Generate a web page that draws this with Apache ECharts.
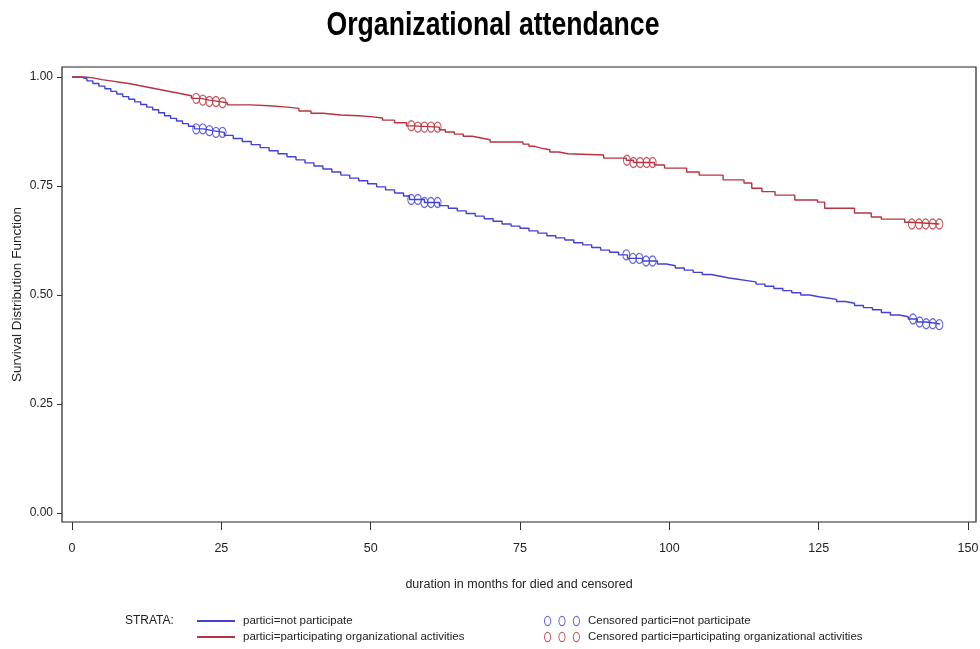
<!DOCTYPE html>
<html>
<head>
<meta charset="utf-8">
<script src="https://cdn.jsdelivr.net/npm/echarts@6/dist/echarts.min.js"></script>
<style>
  html, body { margin: 0; padding: 0; background: #fff; }
  #chart { width: 980px; height: 649px; }
</style>
</head>
<body>
<div id="chart"></div>
<script>
// Kaplan-Meier survival estimates by organizational participation
const xTicks = [0, 25, 50, 75, 100, 125, 150];
const yTicks = [0, 0.25, 0.5, 0.75, 1];

// stratum: not participating (event times in months, survival after each event)
const notPartTime = [0, 1.5, 2.5, 3.5, 4.5, 5.5, 6.5, 7.5, 8.5, 9.5, 10.5, 11.5, 12.5, 13.5, 14.5, 15.5, 16.5, 17.5, 18.5, 19.5,
  20.5, 22, 23.5, 25.5, 27, 28.5, 30, 31.5, 33, 34.5, 36, 37.5, 39, 40.5, 42, 43.5, 45, 46.5, 48, 49.5,
  51, 52.5, 54, 55.5, 56.5, 59, 61.5, 63, 64.5, 66, 67.5, 69, 70.5, 72, 73.5, 75, 76.5, 78, 79.5, 81,
  82.5, 84, 85.5, 87, 88.5, 90, 91.5, 93, 95.5, 98, 99.5, 101, 102.5, 104, 105.5, 107, 108.5, 110, 111.5, 113,
  114.5, 116, 117.5, 119, 120.5, 122, 123.5, 125, 126.5, 128, 129.5, 131, 132.5, 134, 135.5, 137, 138.5, 140, 141.5, 143, 145.2];
const notPartSurv = [1.000, 0.996, 0.991, 0.985, 0.979, 0.973, 0.967, 0.961, 0.955, 0.949, 0.943, 0.937, 0.931, 0.925, 0.918, 0.911, 0.905, 0.899, 0.893, 0.887,
  0.881, 0.877, 0.873, 0.866, 0.859, 0.852, 0.845, 0.838, 0.831, 0.824, 0.817, 0.810, 0.803, 0.796, 0.789, 0.782, 0.775, 0.768, 0.762, 0.755,
  0.748, 0.741, 0.734, 0.727, 0.719, 0.712, 0.705, 0.699, 0.693, 0.687, 0.681, 0.675, 0.669, 0.663, 0.658, 0.653, 0.647, 0.642, 0.636, 0.631,
  0.626, 0.620, 0.615, 0.609, 0.603, 0.598, 0.592, 0.584, 0.578, 0.571, 0.567, 0.562, 0.557, 0.552, 0.547, 0.543, 0.539, 0.536, 0.533, 0.530,
  0.525, 0.520, 0.515, 0.510, 0.505, 0.500, 0.496, 0.493, 0.490, 0.485, 0.481, 0.476, 0.471, 0.466, 0.460, 0.454, 0.450, 0.445, 0.438, 0.434, 0.432];
const notPartCensored = [20.8, 21.9, 23, 24.1, 25.2, 56.8, 57.9, 59, 60.1, 61.2, 92.8, 93.9, 95, 96.1, 97.2, 140.8, 141.9, 143, 144.1, 145.2];

// stratum: participating in organizational activities
const partTime = [0, 2, 3.5, 5, 6.5, 8, 9.5, 11, 12.5, 14, 15.5, 17, 18.5, 20, 21.5, 23, 24.5, 26, 30, 33,
  36, 38, 40, 42, 45, 48, 50, 52, 54, 56, 57, 61.5, 62.5, 64, 65.5, 67, 68.5, 70, 75.5, 76.5,
  77.5, 78.5, 80, 81.5, 83, 89, 92.8, 94, 97.5, 99.2, 102.9, 105, 109, 112.5, 113.8, 115.5, 117.7, 121, 124.8, 126,
  131, 133.8, 135.5, 139.4, 140.5, 145.2];
const partSurv = [1.000, 0.998, 0.994, 0.991, 0.988, 0.985, 0.981, 0.977, 0.973, 0.969, 0.965, 0.961, 0.957, 0.951, 0.947, 0.944, 0.941, 0.936, 0.934, 0.931,
  0.928, 0.922, 0.917, 0.913, 0.911, 0.909, 0.906, 0.901, 0.895, 0.888, 0.885, 0.879, 0.874, 0.869, 0.864, 0.860, 0.856, 0.851, 0.846, 0.841,
  0.837, 0.833, 0.828, 0.824, 0.821, 0.814, 0.809, 0.804, 0.798, 0.791, 0.782, 0.775, 0.764, 0.757, 0.745, 0.737, 0.729, 0.718, 0.713, 0.699,
  0.688, 0.679, 0.674, 0.667, 0.663, 0.663];
const partCensored = [20.8, 21.9, 23, 24.1, 25.2, 56.8, 57.9, 59, 60.1, 61.2, 92.9, 94, 95.1, 96.2, 97.2, 140.6, 141.8, 142.9, 144.1, 145.2];

const BLUE = '#4141d6';
const RED = '#b8333f';
const SANS = "'Liberation Sans', Arial, sans-serif";
const TITLE_TEXT = 'Organizational attendance';
const TITLE_FONT = 'bold 33px ' + SANS;
const TITLE_WIDTH = 333;   // condensed headline width in pixels

// survival estimate in effect at time t (right-continuous step function)
function survivalAt(times, surv, t) {
  let v = surv[0];
  for (let i = 0; i < times.length; i++) {
    if (times[i] <= t + 1e-9) v = surv[i]; else break;
  }
  return v;
}

const notPartLine = notPartTime.map((t, i) => [t, notPartSurv[i]]);
const partLine = partTime.map((t, i) => [t, partSurv[i]]);
const notPartMarks = notPartCensored.map(t => [t, survivalAt(notPartTime, notPartSurv, t)]);
const partMarks = partCensored.map(t => [t, survivalAt(partTime, partSurv, t)]);

// three open rings, used as the legend icon for censored observations
const ringsIcon = 'path://' +
  'M0,5A3.5,5 0 1 1 7,5A3.5,5 0 1 1 0,5Z M1,5A2.5,4 0 1 0 6,5A2.5,4 0 1 0 1,5Z ' +
  'M14,5A3.5,5 0 1 1 21,5A3.5,5 0 1 1 14,5Z M15,5A2.5,4 0 1 0 20,5A2.5,4 0 1 0 15,5Z ' +
  'M28,5A3.5,5 0 1 1 35,5A3.5,5 0 1 1 28,5Z M29,5A2.5,4 0 1 0 34,5A2.5,4 0 1 0 29,5Z';

// plot frame spans slightly past the tick range on every side
const PX_PER_MONTH = 896 / 150;
const PX_PER_UNIT = 436;
const xMin = -10 / PX_PER_MONTH, xMax = 150 + 8 / PX_PER_MONTH;
const yMin = -9 / PX_PER_UNIT, yMax = 1 + 10 / PX_PER_UNIT;

// horizontal squeeze for the headline so it reads as a condensed face
const measureCtx = document.createElement('canvas').getContext('2d');
measureCtx.font = TITLE_FONT;
const titleScale = TITLE_WIDTH / measureCtx.measureText(TITLE_TEXT).width;

const labelStyle = { fontFamily: SANS, fontSize: 12.5, color: '#222' };

const chart = echarts.init(document.getElementById('chart'), null, { renderer: 'canvas' });

chart.setOption({
  animation: false,
  backgroundColor: '#ffffff',
  grid: {
    left: 62, top: 67, width: 914, height: 455, show: true,
    borderColor: '#222', borderWidth: 1.2, backgroundColor: 'transparent',
    containLabel: false, outerBoundsMode: 'none'
  },
  xAxis: {
    type: 'value', min: xMin, max: xMax,
    position: 'bottom',
    axisLine: { show: false, onZero: false },
    axisTick: { show: true, length: 8, customValues: xTicks, lineStyle: { color: '#333', width: 1 } },
    axisLabel: Object.assign({ margin: 20, customValues: xTicks, formatter: v => String(Math.round(v)) }, labelStyle),
    splitLine: { show: false },
    name: 'duration in months for died and censored',
    nameLocation: 'middle', nameGap: 56, nameMoveOverlap: false,
    nameTextStyle: { fontFamily: SANS, fontSize: 12.5, color: '#222' }
  },
  yAxis: {
    type: 'value', min: yMin, max: yMax,
    position: 'left',
    axisLine: { show: false, onZero: false },
    axisTick: { show: true, length: 5, customValues: yTicks, lineStyle: { color: '#333', width: 1 } },
    axisLabel: Object.assign({ margin: 9, customValues: yTicks, formatter: v => v.toFixed(2) }, labelStyle, { fontSize: 12 }),
    splitLine: { show: false },
    name: 'Survival Distribution Function',
    nameLocation: 'middle', nameGap: 38, nameRotate: 90, nameMoveOverlap: false,
    nameTextStyle: { fontFamily: SANS, fontSize: 13.5, color: '#222' }
  },
  legend: [
    {
      left: 197, top: 615, orient: 'vertical', itemGap: 4, padding: 0,
      itemWidth: 38, itemHeight: 2, icon: 'rect',
      textStyle: { fontFamily: SANS, fontSize: 11.5, color: '#222', padding: [0, 0, 0, 3] },
      data: [
        { name: 'partici=not participate' },
        { name: 'partici=participating organizational activities' }
      ]
    },
    {
      left: 544, top: 615, orient: 'vertical', itemGap: 4, padding: 0,
      itemWidth: 36, itemHeight: 11,
      textStyle: { fontFamily: SANS, fontSize: 11.5, color: '#222', padding: [0, 0, 0, 3] },
      data: [
        { name: 'Censored partici=not participate', icon: ringsIcon, itemStyle: { color: BLUE, borderWidth: 0 } },
        { name: 'Censored partici=participating organizational activities', icon: ringsIcon, itemStyle: { color: RED, borderWidth: 0 } }
      ]
    }
  ],
  graphic: [
    {
      type: 'text', x: 493, y: 26, scaleX: titleScale, scaleY: 1,
      style: { text: TITLE_TEXT, font: TITLE_FONT, fill: '#000', align: 'center', verticalAlign: 'middle' }
    },
    {
      type: 'text', left: 125, top: 615,
      style: { text: 'STRATA:', font: '12px ' + SANS, fill: '#222' }
    }
  ],
  series: [
    {
      name: 'partici=not participate', type: 'line', step: 'end',
      data: notPartLine,
      showSymbol: false, symbol: 'none', color: BLUE,
      lineStyle: { color: BLUE, width: 1.4 }, z: 3
    },
    {
      name: 'partici=participating organizational activities', type: 'line', step: 'end',
      data: partLine,
      showSymbol: false, symbol: 'none', color: RED,
      lineStyle: { color: RED, width: 1.4 }, z: 3
    },
    {
      name: 'Censored partici=not participate', type: 'scatter',
      data: notPartMarks,
      symbol: 'circle', symbolSize: [7, 10], color: BLUE,
      itemStyle: { color: 'transparent', borderColor: BLUE, borderWidth: 1.2 }, z: 4
    },
    {
      name: 'Censored partici=participating organizational activities', type: 'scatter',
      data: partMarks,
      symbol: 'circle', symbolSize: [7, 10], color: RED,
      itemStyle: { color: 'transparent', borderColor: RED, borderWidth: 1.2 }, z: 4
    }
  ]
});
</script>
</body>
</html>
